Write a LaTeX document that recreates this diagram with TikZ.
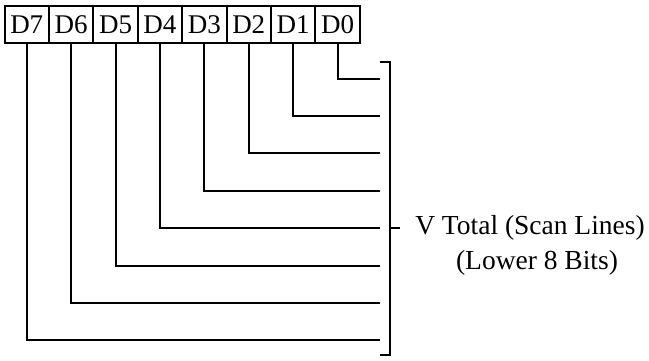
\documentclass[tikz,border=0pt]{standalone}
\usepackage{fontspec}
\setmainfont{Liberation Serif}
\begin{document}
\begin{tikzpicture}[x=1pt,y=-1pt,
  bitbox/.style={draw,line width=2.1pt,minimum width=44.4pt,minimum height=37pt,inner sep=0pt,font=\fontsize{27}{29}\selectfont,anchor=north west},
  wire/.style={line width=2.1pt},
  lbl/.style={font=\fontsize{27.5}{30}\selectfont,inner sep=0pt}]
\useasboundingbox (0,0) rectangle (649,360);
\foreach \i/\n in {0/7,1/6,2/5,3/4,4/3,5/2,6/1,7/0}{
  \node[bitbox] (b\n) at ({3.5+\i*44.4},5) {D\n};
}
\foreach \n/\y in {0/79,1/116,2/153,3/191,4/228,5/266,6/303,7/340}{
  \coordinate (e\n) at (380,\y);
  \draw[wire] (b\n.south) |- (e\n);
}
\draw[wire] (380,62) -- (390,62) -- (390,355) -- (380,355);
\coordinate (t0) at (390,228);
\coordinate (t1) at (400,228);
\draw[wire] (t0) -- (t1);
\node[lbl] (l1) at (530,228) {V Total (Scan Lines)};
\node[lbl] (l2) at (537,263) {(Lower 8 Bits)};
\end{tikzpicture}
\end{document}
